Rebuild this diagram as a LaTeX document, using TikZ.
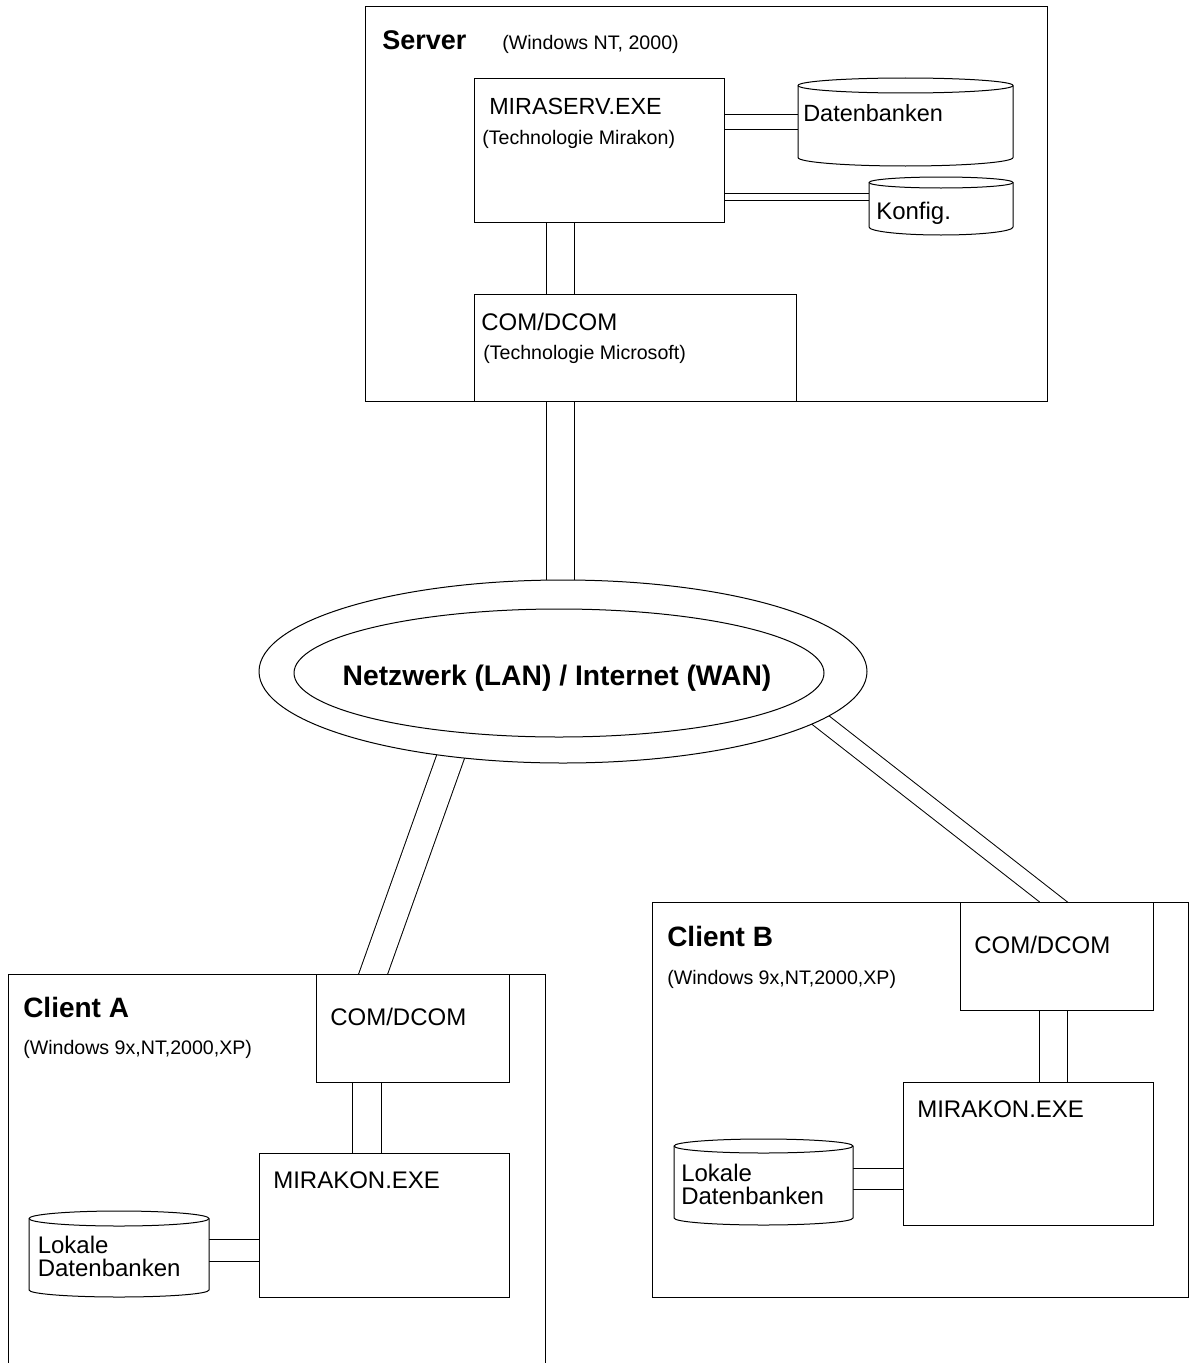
\documentclass[tikz,border=0pt]{standalone}
\usepackage{fontspec}
\setmainfont{Liberation Sans}
\usetikzlibrary{fit,shapes.geometric}
\pgfdeclarelayer{bg}
\pgfsetlayers{bg,main}
% #1 name, #2 x1, #3 ytop, #4 x2, #5 ybottom, #6 top radius, #7 bottom radius
\newcommand\cylshape[7]{%
  \node[fit={(#2,#3) (#4,#5)}, inner sep=0pt, outer sep=0pt] (#1) {};
  \draw[line width=0.75pt, fill=white] (#2,#3+#6) -- (#2,#5-#7)
    arc[start angle=180, end angle=360, x radius={(#4-#2)*0.375pt}, y radius={#7*0.75pt}]
    -- (#4,#3+#6)
    arc[start angle=0, end angle=180, x radius={(#4-#2)*0.375pt}, y radius={#6*0.75pt}] -- cycle;
  \draw[line width=0.75pt] (#2,#3+#6)
    arc[start angle=180, end angle=360, x radius={(#4-#2)*0.375pt}, y radius={#6*0.75pt}];
}
\begin{document}
\begin{tikzpicture}[x=0.75pt,y=-0.75pt,
  frame/.style={draw, line width=0.75pt, inner sep=0pt, outer sep=0pt},
  box/.style={frame, fill=white},
  dbl/.style={draw, line width=0.75pt, double, double distance=#1},
  lab/.style={inner sep=0pt, anchor=base west, font=\fontsize{18pt}{21pt}\selectfont},
  sm/.style={inner sep=0pt, anchor=base west, font=\fontsize{14.7pt}{17pt}\selectfont},
  ttl/.style={inner sep=0pt, anchor=base west, font=\fontsize{#1}{24pt}\selectfont\bfseries},
  ring/.style={ellipse, draw, line width=0.75pt, inner sep=0pt, outer sep=0pt}
]
\useasboundingbox (0,0) rectangle (1191,1363);
\clip (0,0) rectangle (1191,1363);

% ---------- containers ----------
\node[frame, fit={(365,7) (1047,401)}] (server) {};
\node[frame, fit={(8,974) (545,1400)}] (clientA) {};
\node[frame, fit={(652,902) (1188,1297)}] (clientB) {};

% ---------- server ----------
\node[box, fit={(474,79) (724,222)}] (mira) {};
\node[box, fit={(474,294) (796,401)}] (scom) {};
\cylshape{dbS}{798}{78}{1013}{166}{7.5}{8.5}
\cylshape{cfg}{869}{177}{1013}{235}{5.5}{8}

% ---------- client A ----------
\node[box, fit={(316,974) (509,1082)}] (acom) {};
\node[box, fit={(259,1153) (509,1297)}] (amira) {};
\cylshape{adb}{29}{1211}{209}{1297}{7.5}{7}

% ---------- client B ----------
\node[box, fit={(960,902) (1153,1010)}] (bcom) {};
\node[box, fit={(903,1082) (1153,1225)}] (bmira) {};
\cylshape{bdb}{674}{1139}{853}{1225}{7}{7}

% ---------- network ----------
\node[ring, fill=white, minimum width=456pt, minimum height=137.25pt] (net) at (563,671.5) {};
\node[ring, minimum width=397.5pt, minimum height=96pt] (netin) at (559,673) {};

% ---------- texts ----------
\node[ttl=20.25pt] (tServer) at (382,50) {Server};
\node[sm] (tServerOS) at (502,50) {(Windows NT, 2000)};
\node[lab, font=\fontsize{17.5pt}{21pt}\selectfont] (tMira) at (489,114) {MIRASERV.EXE};
\node[sm] (tMiraTech) at (482,144) {(Technologie Mirakon)};
\node[lab, font=\fontsize{17.6pt}{21pt}\selectfont] (tDb) at (803,122) {Datenbanken};
\node[lab] (tCfg) at (876,219) {Konfig.};
\node[lab] (tSCom) at (481,330) {COM/DCOM};
\node[sm] (tSComTech) at (483,359) {(Technologie Microsoft)};
\node[inner sep=0pt, anchor=base, font=\fontsize{21.2pt}{24pt}\selectfont\bfseries] (tNet) at (557,685) {Netzwerk (LAN) / Internet (WAN)};

\node[ttl=21pt] (tA) at (23,1017) {Client A};
\node[sm] (tAOS) at (23,1054) {(Windows 9x,NT,2000,XP)};
\node[lab] (tACom) at (330,1025) {COM/DCOM};
\node[lab] (tAMira) at (273,1188) {MIRAKON.EXE};
\node[lab] (tADb1) at (37.5,1253) {Lokale};
\node[lab] (tADb2) at (37.5,1276) {Datenbanken};

\node[ttl=21pt] (tB) at (667,946) {Client B};
\node[sm] (tBOS) at (667,984) {(Windows 9x,NT,2000,XP)};
\node[lab] (tBCom) at (974,953) {COM/DCOM};
\node[lab] (tBMira) at (917,1117) {MIRAKON.EXE};
\node[lab] (tBDb1) at (681,1181) {Lokale};
\node[lab] (tBDb2) at (681,1204) {Datenbanken};

% ---------- connectors ----------
\coordinate (sx) at (560,0);
\coordinate (dbrow) at (0,121.5);
\coordinate (cfgrow) at (0,197);
\coordinate (ax) at (366.5,0);
\coordinate (bx) at (1053,0);
\coordinate (arow) at (0,1250);
\coordinate (brow) at (0,1178.5);
\coordinate (nA) at (465.6,714.6);
\coordinate (cA) at (366.8,991.8);
\coordinate (nB) at (789.5,695.9);
\coordinate (cB) at (1069.3,914.3);

\begin{pgfonlayer}{bg}
\draw[dbl=20.25pt] (mira.south -| sx) -- (scom.north -| sx);
\draw[dbl=20.25pt] (scom.south -| sx) -- (net.center -| sx);
\draw[dbl=10.5pt] (mira.east |- dbrow) -- (dbS.west |- dbrow);
\draw[dbl=4.5pt] (mira.east |- cfgrow) -- (cfg.west |- cfgrow);
\draw[dbl=19.7pt] (nA) -- (cA);
\draw[dbl=12pt] (nB) -- (cB);
\draw[dbl=21pt] (acom.south -| ax) -- (amira.north -| ax);
\draw[dbl=20.25pt] (bcom.south -| bx) -- (bmira.north -| bx);
\draw[dbl=15.75pt] (adb.east |- arow) -- (amira.west |- arow);
\draw[dbl=15pt] (bdb.east |- brow) -- (bmira.west |- brow);
\end{pgfonlayer}
\end{tikzpicture}
\end{document}
